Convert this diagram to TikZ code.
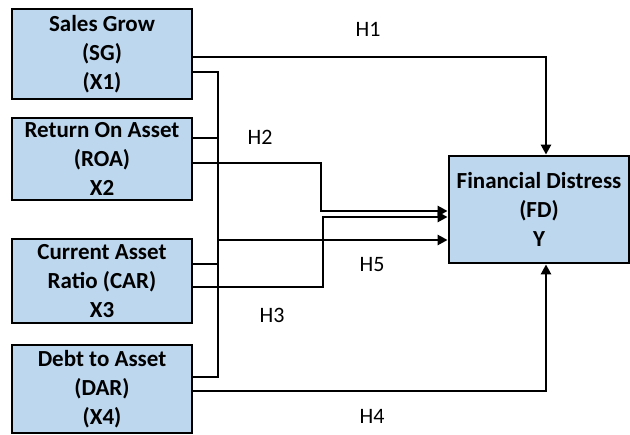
\documentclass[tikz,border=0pt]{standalone}
\usepackage{fontspec}
\setmainfont{Carlito}
\usetikzlibrary{arrows.meta}
\definecolor{boxblue}{HTML}{BDD7EE}
\begin{document}
\begin{tikzpicture}[x=1pt,y=-1pt,
  varbox/.style={draw=black, line width=2.8pt, fill=boxblue, minimum width=180pt, align=center,
    font=\fontsize{23}{29}\selectfont\bfseries, inner sep=0pt},
  conn/.style={line width=2.8pt},
  arr/.style={line width=2.8pt, -{Triangle[length=10pt,width=10pt]}},
  hlab/.style={font=\fontsize{22}{26}\selectfont, inner sep=1pt}]
\useasboundingbox (0,0) rectangle (630,435);
\node[varbox, minimum height=90pt] (SG) at (102,54) {Sales Grow\\(SG)\\(X1)};
\node[varbox, minimum height=82pt] (ROA) at (102,159) {Return On Asset\\(ROA)\\X2};
\node[varbox, minimum height=84pt] (CAR) at (102,281) {Current Asset\\Ratio (CAR)\\X3};
\node[varbox, minimum height=88pt] (DAR) at (102,389) {Debt to Asset\\(DAR)\\(X4)};
\node[varbox, minimum height=107pt] (FD) at (539,209.5) {Financial Distress\\(FD)\\Y};
% H1
\draw[arr] ([yshift=-3pt]SG.east) -| ([xshift=7pt]FD.north);
% bus
\coordinate (busb) at (218,377);
\coordinate (bus5) at (218,240);
\draw[conn] ([yshift=-18pt]SG.east) -| (busb) -- (busb -| DAR.east);
\draw[conn] ([yshift=21pt]ROA.east) -- ++(26,0);
\draw[conn] ([yshift=17pt]CAR.east) -- ++(26,0);
\draw[arr] (bus5) -- (bus5 -| FD.west);
% H2
\coordinate (r1) at (321,211);
\draw[arr] ([yshift=-4pt]ROA.east) -| (r1) -- (r1 -| FD.west);
% H3
\coordinate (c1) at (323,217);
\draw[arr] ([yshift=-6pt]CAR.east) -| (c1) -- (c1 -| FD.west);
% H4
\draw[arr] ([yshift=-2pt]DAR.east) -| ([xshift=7pt]FD.south);
% labels
\node[hlab] (h1) at (368,29) {H1};
\node[hlab] (h2) at (260,137) {H2};
\node[hlab] (h5) at (372,265) {H5};
\node[hlab] (h3) at (272,315) {H3};
\node[hlab] (h4) at (372,416) {H4};
\end{tikzpicture}
\end{document}
